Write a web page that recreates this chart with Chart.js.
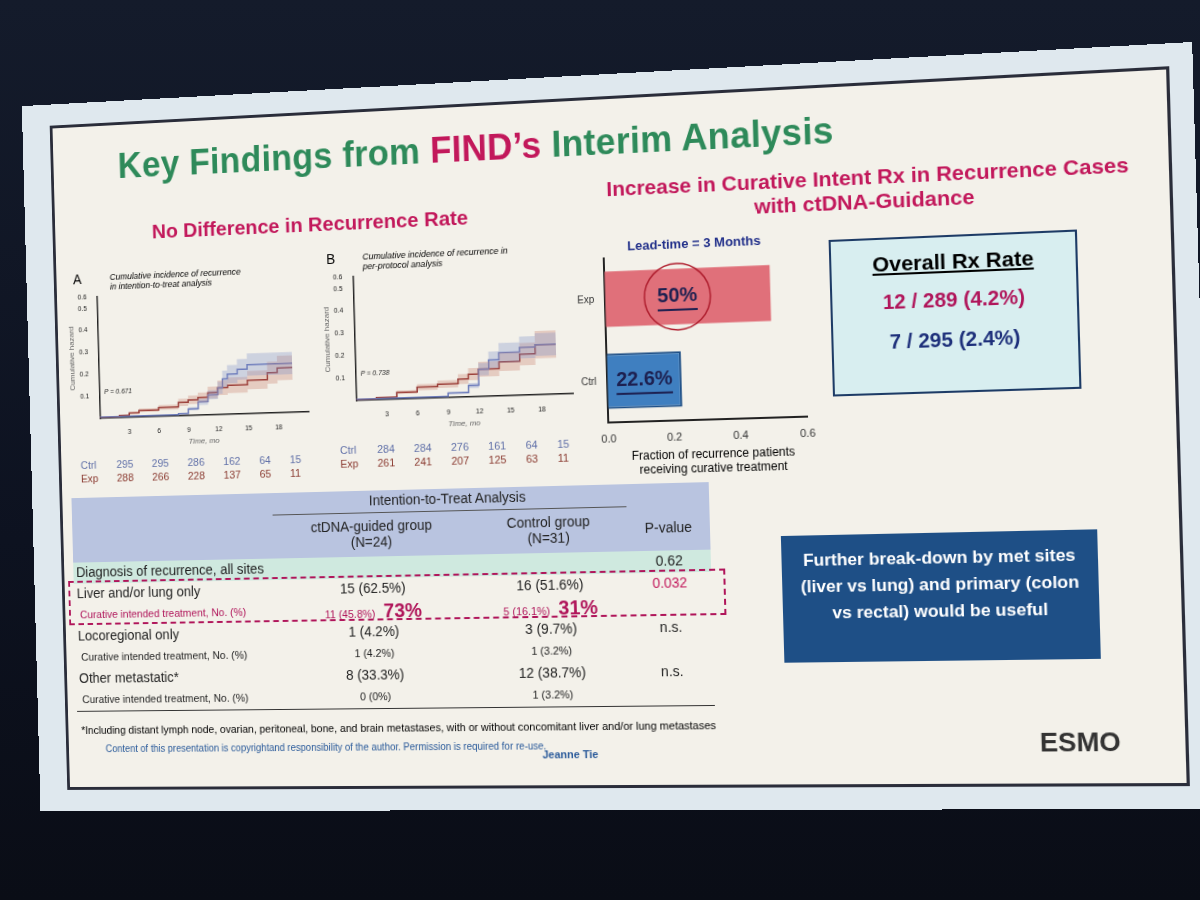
<!DOCTYPE html>
<html><head><meta charset="utf-8">
<script src="https://cdn.jsdelivr.net/npm/chart.js"></script>
<style>
body{margin:0;width:1200px;height:900px;background:linear-gradient(#141b2b,#0d1220 60%,#0a0d16);overflow:hidden;font-family:"Liberation Sans",Arial,sans-serif;}
#slide{position:absolute;left:0px;top:75px;width:1185px;height:735px;background:#dfe8ee;transform:perspective(2200px) rotateY(-9deg) rotate(-1.6deg);transform-origin:50% 50%;}
#inner{position:absolute;left:30px;top:22px;right:22px;bottom:22px;background:#f3f1ea;border:3px solid #2a2d3a;}
.abs{position:absolute;}
h1{position:absolute;left:70px;top:22px;margin:0;font-size:36px;font-weight:bold;color:#2e8a5a;letter-spacing:0.3px}
h1 span{color:#c2185b}
.sub{color:#c2185b;font-weight:bold;font-size:21px}
.km{position:absolute;width:260px;height:165px}
.risk{position:absolute;font-size:11px}
.risk td{padding:0 9px}
table.t{position:absolute;border-collapse:collapse;font-size:14px;color:#222;line-height:1.1}
table.t td{padding:0 3px;height:22px}
.box{position:absolute;}
</style></head><body>
<div id="slide"><div id="inner">
<h1>Key Findings from <span>FIND’s</span> Interim Analysis</h1>
<div class="abs sub" style="left:105px;top:100px">No Difference in Recurrence Rate</div>
<div class="abs sub" style="left:550px;top:78px;text-align:center;width:570px">Increase in Curative Intent Rx in Recurrence Cases<br>with ctDNA-Guidance</div>

<div class="abs" style="left:18px;top:150px;font-size:14px">A</div>
<div class="abs" style="left:58px;top:152px;font-size:9px;font-style:italic;width:150px">Cumulative incidence of recurrence in intention-to-treat analysis</div>
<div class="km" style="left:10px;top:170px"><canvas id="kmA"></canvas></div>
<div class="abs" style="left:290px;top:140px;font-size:14px">B</div>
<div class="abs" style="left:328px;top:142px;font-size:9px;font-style:italic;width:160px">Cumulative incidence of recurrence in per-protocol analysis</div>
<div class="km" style="left:284px;top:160px"><canvas id="kmB"></canvas></div>
<table class="risk" style="left:10px;top:343px"><tr style="color:#6070a8"><td>Ctrl</td><td>295</td><td>295</td><td>286</td><td>162</td><td>64</td><td>15</td></tr><tr style="color:#8a3a30"><td>Exp</td><td>288</td><td>266</td><td>228</td><td>137</td><td>65</td><td>11</td></tr></table>
<table class="risk" style="left:288px;top:335px"><tr style="color:#6070a8"><td>Ctrl</td><td>284</td><td>284</td><td>276</td><td>161</td><td>64</td><td>15</td></tr><tr style="color:#8a3a30"><td>Exp</td><td>261</td><td>241</td><td>207</td><td>125</td><td>63</td><td>11</td></tr></table>

<div class="abs" style="left:600px;top:140px;font-size:13px;font-weight:bold;color:#22308a">Lead-time = 3 Months</div>
<div class="abs" style="left:545px;top:150px;width:240px;height:200px"><canvas id="bar"></canvas></div>
<div class="abs" style="left:570px;top:350px;font-size:12px;text-align:center;width:220px">Fraction of recurrence patients<br>receiving curative treatment</div>

<div class="box" style="left:800px;top:150px;width:235px;height:150px;background:#d8eef0;border:2px solid #1d3b66;text-align:center">
<div style="font-size:21px;font-weight:bold;margin-top:12px;text-decoration:underline">Overall Rx Rate</div>
<div style="font-size:20px;color:#b0155a;font-weight:bold;margin-top:14px">12 / 289 (4.2%)</div>
<div style="font-size:20px;color:#1d2f7a;font-weight:bold;margin-top:16px">7 / 295 (2.4%)</div></div>

<div class="box" style="left:745px;top:440px;width:305px;height:125px;background:#1e4f86;color:#fff;font-weight:bold;font-size:17px;text-align:center;line-height:26px;padding:12px 8px 0;box-sizing:border-box">Further break-down by met sites (liver vs lung) and primary (colon vs rectal) would be useful</div>

<table class="t" style="left:10px;top:385px;width:665px">
<tr style="background:#b9c4e0"><td style="width:210px"></td><td colspan="2" style="text-align:center;border-bottom:1px solid #555">Intention-to-Treat Analysis</td><td></td></tr>
<tr style="background:#b9c4e0"><td style="height:44px"></td><td style="text-align:center">ctDNA-guided group<br>(N=24)</td><td style="text-align:center">Control group<br>(N=31)</td><td style="text-align:center">P-value</td></tr>
<tr style="background:#cfe9df"><td style="height:18px">Diagnosis of recurrence, all sites</td><td></td><td></td><td style="text-align:center">0.62</td></tr>
<tr><td>Liver and/or lung only</td><td style="text-align:center">15 (62.5%)</td><td style="text-align:center">16 (51.6%)</td><td style="text-align:center;color:#c2185b">0.032</td></tr>
<tr style="color:#b0155a;font-size:11px"><td>&nbsp;Curative intended treatment, No. (%)</td><td style="text-align:center">11 (45.8%) <b style="font-size:20px">&nbsp;73%</b></td><td style="text-align:center">5 (16.1%) <b style="font-size:20px">&nbsp;31%</b></td><td></td></tr>
<tr><td>Locoregional only</td><td style="text-align:center">1 (4.2%)</td><td style="text-align:center">3 (9.7%)</td><td style="text-align:center">n.s.</td></tr>
<tr style="font-size:11px"><td>&nbsp;Curative intended treatment, No. (%)</td><td style="text-align:center">1 (4.2%)</td><td style="text-align:center">1 (3.2%)</td><td></td></tr>
<tr><td>Other metastatic*</td><td style="text-align:center">8 (33.3%)</td><td style="text-align:center">12 (38.7%)</td><td style="text-align:center">n.s.</td></tr>
<tr style="font-size:11px;border-bottom:1px solid #333"><td>&nbsp;Curative intended treatment, No. (%)</td><td style="text-align:center">0 (0%)</td><td style="text-align:center">1 (3.2%)</td><td></td></tr>
</table>
<div class="abs" style="left:4px;top:471px;width:681px;height:42px;border:2px dashed #b0155a"></div>
<div class="abs" style="left:14px;top:620px;font-size:11px">*Including distant lymph node, ovarian, peritoneal, bone, and brain metastases, with or without concomitant liver and/or lung metastases</div>
<div class="abs" style="left:40px;top:640px;font-size:10px;color:#2a5a9a">Content of this presentation is copyrightand responsibility of the author. Permission is required for re-use.</div>
<div class="abs" style="left:500px;top:648px;font-size:11px;color:#2a5a9a;font-weight:bold">Jeanne Tie</div>
<div class="abs" style="left:990px;top:630px;font-size:26px;font-weight:900;color:#333">ESMO</div>
</div></div>
<script>
// KM A
const aCtrlX=[0,8,9,10,11,12,12.5,13,14,15,19.5];
const aCtrlY=[0.005,0.01,0.03,0.06,0.09,0.12,0.16,0.18,0.2,0.22,0.22];
const aExpX=[0,2,3,4,6,8,9,10,11,12,13,15,17,18,19.5];
const aExpY=[0.005,0.01,0.02,0.03,0.04,0.06,0.07,0.08,0.1,0.12,0.13,0.15,0.18,0.2,0.2];
// KM B
const bCtrlX=[0,9,11,12,13,14,16,17.5,19.5];
const bCtrlY=[0.005,0.02,0.05,0.12,0.16,0.19,0.21,0.22,0.22];
const bExpX=[0,2,4,6,8,10,11,12,14,16,17.5,19.5];
const bExpY=[0.005,0.01,0.03,0.05,0.06,0.08,0.1,0.12,0.15,0.18,0.22,0.22];
const bandCtrl=0.05, bandExp=0.06; // half-width of confidence band at end
const barCats=['Exp','Ctrl'];
const barVals=[0.50,0.226];
const barLabels=['50%','22.6%'];

function pts(xs,ys,d){return xs.map((x,i)=>({x,y:Math.max(0,ys[i]+d*ys[i]/0.22)}));}
function km(id,cX,cY,eX,eY,p){
  new Chart(document.getElementById(id),{type:'line',data:{datasets:[
    {data:pts(cX,cY,-bandCtrl),stepped:true,borderWidth:0,pointRadius:0},
    {data:pts(cX,cY,bandCtrl),stepped:true,borderWidth:0,pointRadius:0,fill:'-1',backgroundColor:'rgba(120,140,200,0.3)'},
    {data:pts(eX,eY,-bandExp),stepped:true,borderWidth:0,pointRadius:0},
    {data:pts(eX,eY,bandExp),stepped:true,borderWidth:0,pointRadius:0,fill:'-1',backgroundColor:'rgba(200,120,100,0.3)'},
    {data:pts(cX,cY,0),stepped:true,borderColor:'#6a78b8',borderWidth:1.5,pointRadius:0},
    {data:pts(eX,eY,0),stepped:true,borderColor:'#8a2a2a',borderWidth:1.5,pointRadius:0}]},
   options:{animation:false,responsive:true,maintainAspectRatio:false,plugins:{legend:{display:false},tooltip:{enabled:false}},
    scales:{x:{type:'linear',min:0,max:21,grid:{display:false},border:{color:'#222',width:1.5},
      ticks:{stepSize:3,font:{size:7},color:'#222',callback:v=>v===0||v>18?'':v},title:{display:true,text:'Time, mo',font:{size:8,style:'italic'},padding:0}},
     y:{min:0,max:0.55,grid:{display:false},border:{color:'#222',width:1.5},ticks:{stepSize:0.1,font:{size:7},color:'#222',callback:v=>v===0?'':v.toFixed(1)},
      title:{display:true,text:'Cumulative hazard',font:{size:8},padding:0}}}},
   plugins:[{id:'p',afterDraw(c){const g=c.ctx;g.font='italic 7px Liberation Sans';g.fillStyle='#222';g.fillText(p,c.scales.x.getPixelForValue(0.5),c.scales.y.getPixelForValue(0.11));}}]});
}
km('kmA',aCtrlX,aCtrlY,aExpX,aExpY,'P = 0.671');
km('kmB',bCtrlX,bCtrlY,bExpX,bExpY,'P = 0.738');

new Chart(document.getElementById('bar'),{type:'bar',data:{labels:barCats,datasets:[{data:barVals,backgroundColor:['#e0707a','#3f7fc0'],borderColor:['#e0707a','#1e4f86'],borderWidth:[0,2],barPercentage:0.75,categoryPercentage:0.9}]},
 options:{indexAxis:'y',animation:false,responsive:true,maintainAspectRatio:false,plugins:{legend:{display:false},tooltip:{enabled:false}},
  scales:{x:{min:0,max:0.6,grid:{display:false},border:{color:'#222',width:2},ticks:{stepSize:0.2,color:'#333',font:{size:11},callback:v=>v.toFixed(1)}},
   y:{grid:{display:false},border:{color:'#222',width:2},ticks:{color:'#333',font:{size:10}}}}},
 plugins:[{id:'lbl',afterDatasetsDraw(c){const g=c.ctx;const m=c.getDatasetMeta(0);g.save();g.font='bold 20px Liberation Sans';g.fillStyle='#1d2050';g.textBaseline='middle';g.textAlign='center';
  m.data.forEach((b,i)=>{const x=i===0?c.scales.x.getPixelForValue(0.22):(b.base+b.x)/2;const w=g.measureText(barLabels[i]).width;g.fillText(barLabels[i],x,b.y);g.fillRect(x-w/2,b.y+12,w,2);
   if(i===0){g.strokeStyle='#b02030';g.lineWidth=1.5;g.beginPath();g.arc(x,b.y,33,0,Math.PI*2);g.stroke();}});g.restore();}}]});
</script>
</body></html>
